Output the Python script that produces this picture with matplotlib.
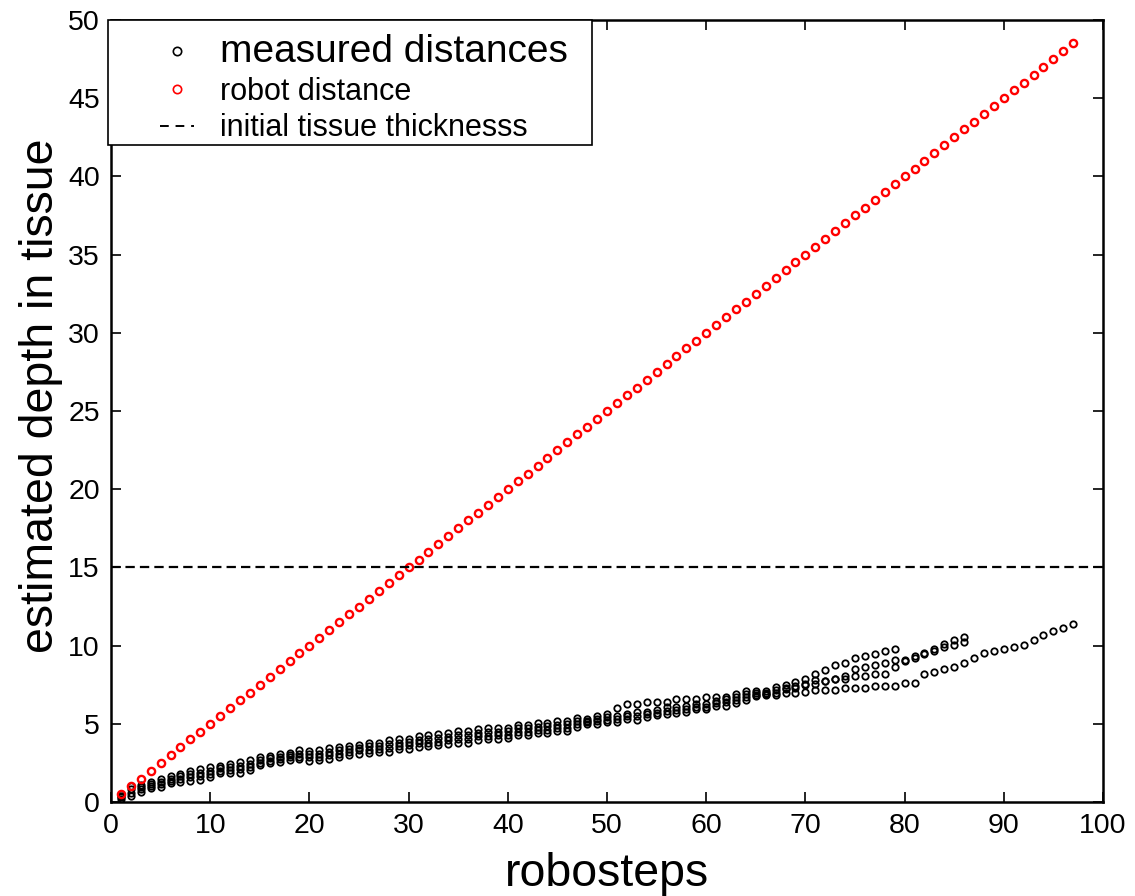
import matplotlib
matplotlib.use("Agg")
import matplotlib.pyplot as plt
from matplotlib.lines import Line2D
from matplotlib.patches import Rectangle

plt.rcParams['font.family'] = ['Liberation Sans', 'DejaVu Sans']

# ---------------- data ----------------
steps = list(range(1, 98))
robot_distance = [0.5 * s for s in steps]  # robot advances 0.5 per step
tissue_thickness = 15

# measured distances: four repeated measurement runs
meas1_steps = list(range(1, 80))
meas1 = [0.5, 1.0, 1.1, 1.3, 1.5, 1.65, 1.8, 2.0, 2.1, 2.25,
         2.3, 2.45, 2.55, 2.7, 2.85, 2.95, 3.05, 3.15, 3.3, 3.25,
         3.3, 3.45, 3.5, 3.6, 3.65, 3.75, 3.8, 3.95, 4.05, 4.05,
         4.2, 4.3, 4.35, 4.4, 4.55, 4.55, 4.65, 4.72, 4.75, 4.75,
         4.9, 4.9, 5.05, 5.05, 5.2, 5.2, 5.35, 5.33, 5.5, 5.65,
         6.0, 6.27, 6.27, 6.42, 6.42, 6.42, 6.57, 6.6, 6.57, 6.72,
         6.72, 6.72, 6.9, 7.1, 7.1, 7.1, 7.35, 7.5, 7.65, 7.88,
         8.2, 8.46, 8.76, 8.9, 9.2, 9.35, 9.48, 9.63, 9.78]

meas2_steps = list(range(1, 87))
meas2 = [0.4, 0.8, 0.95, 1.15, 1.3, 1.5, 1.65, 1.8, 1.85, 2.0,
         2.15, 2.25, 2.3, 2.45, 2.7, 2.8, 2.9, 3.0, 3.1, 3.05,
         3.1, 3.2, 3.3, 3.4, 3.45, 3.55, 3.6, 3.7, 3.8, 3.85,
         3.95, 4.05, 4.1, 4.15, 4.3, 4.3, 4.4, 4.45, 4.5, 4.55,
         4.7, 4.7, 4.8, 4.85, 4.95, 5.0, 5.15, 5.2, 5.3, 5.45,
         5.5, 5.65, 5.75, 5.75, 5.86, 6.08, 6.08, 6.14, 6.25, 6.29,
         6.44, 6.6, 6.7, 6.9, 6.95, 6.95, 7.15, 7.3, 7.43, 7.57,
         7.78, 7.72, 7.86, 8.03, 8.48, 8.6, 8.78, 8.9, 9.06, 9.06,
         9.35, 9.5, 9.8, 10.1, 10.37, 10.52]

meas3_steps = list(range(1, 87))
meas3 = [0.3, 0.6, 0.8, 1.0, 1.15, 1.35, 1.45, 1.6, 1.65, 1.8,
         2.0, 2.05, 2.1, 2.25, 2.5, 2.6, 2.75, 2.85, 2.9, 2.85,
         2.9, 3.0, 3.05, 3.2, 3.3, 3.35, 3.4, 3.45, 3.6, 3.65,
         3.75, 3.8, 3.85, 3.95, 4.05, 4.05, 4.2, 4.25, 4.3, 4.3,
         4.5, 4.5, 4.6, 4.6, 4.75, 4.75, 5.0, 5.1, 5.15, 5.25,
         5.3, 5.5, 5.5, 5.6, 5.7, 5.85, 5.9, 5.95, 6.1, 6.1,
         6.3, 6.4, 6.5, 6.7, 6.85, 6.9, 7.0, 7.2, 7.3, 7.5,
         7.57, 7.72, 7.86, 7.88, 8.03, 8.03, 8.16, 8.16, 8.6, 9.0,
         9.2, 9.45, 9.65, 9.93, 10.07, 10.22]

meas4_steps = list(range(1, 98))
meas4 = [0.2, 0.4, 0.66, 0.87, 0.98, 1.19, 1.3, 1.36, 1.4, 1.57,
         1.83, 1.83, 1.87, 2.04, 2.36, 2.47, 2.57, 2.68, 2.72, 2.63,
         2.68, 2.78, 2.85, 2.99, 3.1, 3.15, 3.2, 3.2, 3.36, 3.42,
         3.53, 3.57, 3.63, 3.74, 3.78, 3.8, 3.95, 4.0, 4.06, 4.1,
         4.27, 4.27, 4.38, 4.4, 4.53, 4.55, 4.8, 5.0, 5.0, 5.1,
         5.1, 5.33, 5.27, 5.44, 5.55, 5.65, 5.71, 5.75, 5.96, 5.97,
         6.13, 6.13, 6.3, 6.5, 6.8, 6.85, 6.85, 7.0, 7.0, 7.02,
         7.15, 7.15, 7.15, 7.3, 7.3, 7.3, 7.44, 7.44, 7.44, 7.59,
         7.59, 8.18, 8.33, 8.48, 8.63, 8.9, 9.19, 9.5, 9.63, 9.78,
         9.93, 10.07, 10.37, 10.65, 10.95, 11.1, 11.4]

xticks = list(range(0, 101, 10))
yticks = list(range(0, 51, 5))

# ---------------- figure ----------------
W, H = 1135, 896
fig = plt.figure(figsize=(W / 100, H / 100), dpi=100)
ax = fig.add_axes([111 / W, 1 - 802 / H, (1103 - 111) / W, (802 - 20) / H])

black_kw = dict(linestyle='none', marker='o', markerfacecolor='none',
                markeredgecolor='black', markersize=4.6, markeredgewidth=1.3)
for xs, ys in [(meas1_steps, meas1), (meas2_steps, meas2),
               (meas3_steps, meas3), (meas4_steps, meas4)]:
    ax.plot(xs, ys, **black_kw)

ax.plot(steps, robot_distance, linestyle='none', marker='o', markerfacecolor='none',
        markeredgecolor='red', markersize=5.2, markeredgewidth=1.7)

ax.axhline(tissue_thickness, color='black', linewidth=1.6, dashes=(4.2, 2.3))

ax.set_xlim(0, 100)
ax.set_ylim(0, 50)
ax.set_xticks(xticks)
ax.set_yticks(yticks)
ax.tick_params(direction='in', length=7, width=1.2, labelsize=20.5,
               top=True, right=True, pad=8)
for sp in ax.spines.values():
    sp.set_linewidth(1.8)

ax.set_xlabel('robosteps', fontsize=33.5, labelpad=9)
ax.set_ylabel('estimated depth in tissue', fontsize=33.5)
ax.yaxis.set_label_coords((63 - 111) / 992, 0.52)

# legend frame (drawn as a separate box, like the original figure)
frame = Rectangle(((108 - 111) / 992, (802 - 145) / 782),
                  (592 - 108) / 992, (145 - 20) / 782,
                  transform=ax.transAxes, facecolor='white', edgecolor='black',
                  linewidth=1.2, clip_on=False, zorder=5)
ax.add_patch(frame)

handles = [
    Line2D([], [], linestyle='none', marker='o', markerfacecolor='none',
           markeredgecolor='black', markersize=6, markeredgewidth=1.2),
    Line2D([], [], linestyle='none', marker='o', markerfacecolor='none',
           markeredgecolor='red', markersize=6, markeredgewidth=1.2),
    Line2D([], [], color='black', linewidth=1.4, dashes=(4.5, 3.5)),
]
labels = ['measured distances', 'robot distance', 'initial tissue thicknesss']
leg = ax.legend(handles, labels, loc='upper left',
                bbox_to_anchor=(160 / W, 1 - 34 / H), bbox_transform=fig.transFigure,
                fontsize=22, frameon=False, handlelength=1.1,
                handletextpad=0.85, borderpad=0, labelspacing=0.22,
                borderaxespad=0)
leg.set_zorder(6)
leg.get_texts()[0].set_fontsize(28)

fig.savefig('out.png', dpi=100)
